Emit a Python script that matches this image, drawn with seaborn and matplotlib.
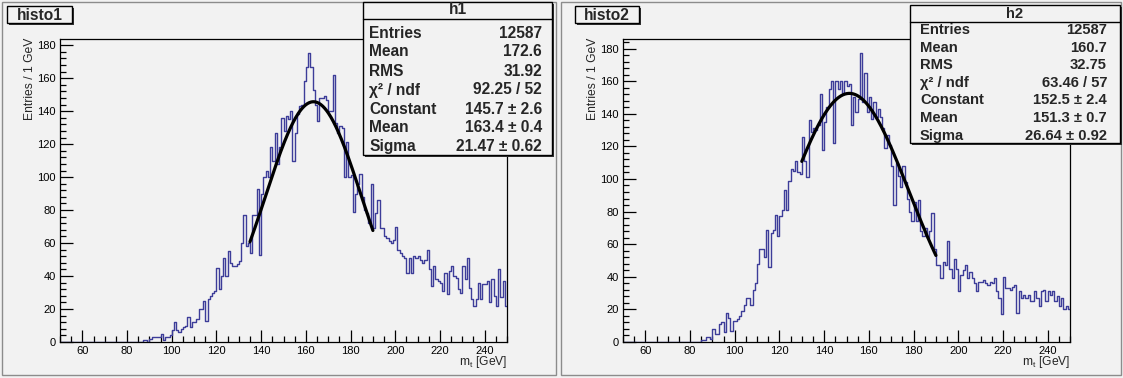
import numpy as np
import pandas as pd
import matplotlib
matplotlib.use("Agg")
import matplotlib.pyplot as plt
import seaborn as sns
from matplotlib.patches import Rectangle
from matplotlib.lines import Line2D
from matplotlib.ticker import MultipleLocator

# ---- data -----------------------------------------------------------------
x_range = (50, 250)                        # 1 GeV bins
bin_width = 1

h1_counts = [
    0, 0, 0, 0, 0, 0, 0, 0, 0, 0, 0, 0, 0, 0, 0, 0, 0, 0, 0, 0,
    0, 0, 0, 0, 0, 0, 0, 0, 0, 0, 0, 0, 0, 0, 0, 0, 0,
    1, 1, 0, 2, 3, 3, 3, 3, 5, 1, 3, 3, 4,
    7, 12, 7, 6, 8, 9, 10, 15, 9, 12, 12,
    14, 20, 20, 25, 13, 26, 28, 30, 31, 45,
    32, 40, 51, 40, 55, 48, 46, 46, 47, 49,
    60, 77, 58, 60, 54, 77, 77, 93, 53, 90,
    100, 104, 100, 118, 110, 127, 108, 118, 136, 128,
    137, 135, 140, 110, 127, 138, 143, 144, 158, 167,
    175, 167, 153, 144, 134, 148, 148, 149, 147, 140,
    140, 162, 133, 127, 131, 130, 100, 121, 100, 101,
    79, 90, 96, 102, 88, 80, 78, 72, 96, 69,
    78, 86, 69, 69, 64, 63, 61, 60, 62, 70,
    56, 54, 52, 51, 42, 51, 42, 52, 51, 52,
    50, 48, 50, 56, 44, 34, 46, 38, 37, 36,
    31, 42, 29, 43, 46, 40, 39, 32, 30, 46,
    38, 51, 33, 26, 22, 26, 36, 26, 35, 35,
    37, 24, 38, 28, 22, 44, 27, 37, 22,
]

h2_counts = [
    0, 0, 0, 0, 0, 0, 0, 0, 0, 0, 0, 0, 0, 0, 0, 0, 0, 0, 0, 0,
    0, 0, 0, 0, 0, 0, 0, 0, 0, 0, 0, 0, 0, 0, 0,
    1, 1, 3, 3, 2, 8, 5, 5, 11, 12, 6, 18, 15, 7, 13,
    13, 14, 16, 19, 23, 27, 27, 23, 32, 36, 48,
    57, 57, 52, 69, 46, 67, 69, 78, 65, 77,
    81, 93, 81, 99, 106, 105, 111, 104, 103, 126,
    111, 101, 136, 129, 131, 130, 133, 152, 118, 135,
    144, 155, 160, 122, 160, 155, 160, 153, 160, 157,
    158, 133, 150, 141, 149, 177, 147, 165, 141, 150,
    137, 147, 138, 143, 138, 131, 119, 127, 121, 108,
    84, 110, 102, 95, 108, 98, 88, 80, 74, 86,
    74, 87, 68, 65, 70, 64, 68, 79, 57, 47,
    47, 39, 49, 47, 62, 45, 39, 51, 45, 31,
    41, 44, 47, 39, 43, 39, 36, 31, 37, 37,
    38, 36, 35, 37, 36, 39, 31, 27, 17, 40,
    33, 33, 32, 34, 35, 18, 31, 27, 29, 27,
    29, 25, 25, 31, 27, 22, 31, 32, 25, 31,
    29, 31, 25, 28, 22, 27, 20, 22, 20,
]

# fit results (gaussian) and their fit ranges
h1_fit = {"Constant": 145.7, "Mean": 163.4, "Sigma": 21.47}
h2_fit = {"Constant": 152.5, "Mean": 151.3, "Sigma": 26.64}
h1_fit_range = (135, 190)
h2_fit_range = (130, 190)

# statistics box rows
h1_stats_labels = ["Entries", "Mean", "RMS", "χ² / ndf", "Constant", "Mean", "Sigma"]
h1_stats_values = ["12587", "172.6", "31.92", "92.25 / 52", "145.7 ± 2.6",
                   "163.4 ± 0.4", "21.47 ± 0.62"]
h2_stats_labels = ["Entries", "Mean", "RMS", "χ² / ndf", "Constant", "Mean", "Sigma"]
h2_stats_values = ["12587", "160.7", "32.75", "63.46 / 57", "152.5 ± 2.4",
                   "151.3 ± 0.7", "26.64 ± 0.92"]

x_ticks = [60, 80, 100, 120, 140, 160, 180, 200, 220, 240]
y_ticks = [0, 20, 40, 60, 80, 100, 120, 140, 160, 180]

# ---- style ----------------------------------------------------------------
sns.set_theme(style="ticks")
plt.rcParams["font.family"] = ["Liberation Sans", "DejaVu Sans"]
plt.rcParams["mathtext.fontset"] = "custom"
plt.rcParams["mathtext.rm"] = "Liberation Sans"
plt.rcParams["mathtext.it"] = "Liberation Sans"

W, H = 1123, 378
BG = "#f2f2f2"
HIST_COLOR = "#3d3d99"
AXIS_FS = 8.7
TICK_FS = 8.0

fig = plt.figure(figsize=(W / 100, H / 100), dpi=100, facecolor=BG)


def fx(px):
    return px / W


def fy(py):
    return 1 - py / H


def box(x0, y0, x1, y1, lw=1.0, shadow=2):
    """Framed box with a dark drop shadow, pixel coordinates from top-left."""
    if shadow:
        fig.add_artist(Rectangle((fx(x0 + shadow), fy(y1 + shadow)),
                                 fx(x1 - x0), fy(y0) - fy(y1),
                                 transform=fig.transFigure, facecolor="#333333",
                                 edgecolor="none", zorder=9))
    fig.add_artist(Rectangle((fx(x0), fy(y1)), fx(x1 - x0), fy(y0) - fy(y1),
                             transform=fig.transFigure, facecolor=BG,
                             edgecolor="black", linewidth=lw, zorder=10))


def hline(x0, x1, y, color="black", lw=1.0, z=11):
    fig.add_artist(Line2D([fx(x0), fx(x1)], [fy(y), fy(y)],
                          transform=fig.transFigure, color=color, lw=lw, zorder=z))


def draw_panel(counts, fit, fit_range, frame, title, title_box,
               stat_name, stat_box, stat_rows, stat_fs, stat_labels, stat_values):
    fl, ft, fr, fb = frame
    ax = fig.add_axes([fx(fl), fy(fb), fx(fr - fl), fy(ft) - fy(fb)])
    ax.set_facecolor(BG)

    centers = np.arange(x_range[0], x_range[1], bin_width) + bin_width / 2
    df = pd.DataFrame({"mt": centers, "entries": counts})
    sns.histplot(data=df, x="mt", weights="entries", binwidth=bin_width,
                 binrange=x_range, element="step", fill=False,
                 color=HIST_COLOR, linewidth=1.0, ax=ax)

    xs = np.linspace(fit_range[0], fit_range[1], 200)
    ys = fit["Constant"] * np.exp(-0.5 * ((xs - fit["Mean"]) / fit["Sigma"]) ** 2)
    sns.lineplot(x=xs, y=ys, color="black", linewidth=2.3, ax=ax)

    ax.set_xlim(*x_range)
    ax.set_ylim(0, max(counts) * 1.05)
    ax.set_xticks(x_ticks)
    ax.set_yticks(y_ticks)
    ax.xaxis.set_minor_locator(MultipleLocator(5))
    ax.yaxis.set_minor_locator(MultipleLocator(4))
    ax.tick_params(which="both", direction="in", top=False, right=False,
                   labelsize=TICK_FS, colors="black", width=0.9, pad=3)
    ax.tick_params(which="major", length=9)
    ax.tick_params(which="minor", length=4.5)
    ax.set_xlabel("")
    ax.set_ylabel("")
    for s in ax.spines.values():
        s.set_color("black")
        s.set_linewidth(0.9)

    # axis titles
    fig.text(fx(fl - 30), fy(ft - 1), "Entries / 1 GeV", rotation=90,
             ha="center", va="top", fontsize=AXIS_FS)
    fig.text(fx(fr), fy(fb + 20), r"m$_{\rm t}$ [GeV]", ha="right",
             va="center", fontsize=AXIS_FS)

    # title box
    tx0, ty0, tx1, ty1 = title_box
    box(tx0, ty0, tx1, ty1, lw=1.0, shadow=2)
    fig.text(fx((tx0 + tx1) / 2), fy((ty0 + ty1) / 2 + 0.5), title, ha="center",
             va="center", fontsize=11.2, fontweight="bold", zorder=12)

    # statistics box
    sx0, sy0, sx1, sy1 = stat_box
    box(sx0, sy0, sx1, sy1, lw=1.0, shadow=2)
    header_y, sep_y, row0, dy, lpad, rpad = stat_rows
    fig.text(fx((sx0 + sx1) / 2), fy(header_y), stat_name, ha="center",
             va="center", fontsize=stat_fs, fontweight="bold", zorder=12)
    hline(sx0, sx1, sep_y)
    for i, (lab, val) in enumerate(zip(stat_labels, stat_values)):
        yy = fy(row0 + i * dy)
        fig.text(fx(sx0 + lpad), yy, lab, ha="left", va="center",
                 fontsize=stat_fs, fontweight="bold", zorder=12)
        fig.text(fx(sx1 - rpad), yy, val, ha="right", va="center",
                 fontsize=stat_fs, fontweight="bold", zorder=12)
    return ax


# pad outlines
for (x0, x1) in [(2, 556), (561, 1121)]:
    fig.add_artist(Rectangle((fx(x0), fy(375)), fx(x1 - x0), fy(2) - fy(375),
                             transform=fig.transFigure, facecolor="none",
                             edgecolor="#8c8c8c", linewidth=1.0, zorder=1))

draw_panel(h1_counts, h1_fit, h1_fit_range,
           frame=(60, 39, 507, 342), title="histo1", title_box=(7, 6, 72, 23),
           stat_name="h1", stat_box=(363, 2, 552, 155),
           stat_rows=(10, 19, 33, 19, 6, 10), stat_fs=11.2,
           stat_labels=h1_stats_labels, stat_values=h1_stats_values)

draw_panel(h2_counts, h2_fit, h2_fit_range,
           frame=(623, 39, 1070, 342), title="histo2", title_box=(575, 6, 639, 23),
           stat_name="h2", stat_box=(910, 5, 1120, 143),
           stat_rows=(14, 22, 30, 17.6, 10, 13), stat_fs=10.6,
           stat_labels=h2_stats_labels, stat_values=h2_stats_values)

fig.savefig("out.png", dpi=100, facecolor=BG)
